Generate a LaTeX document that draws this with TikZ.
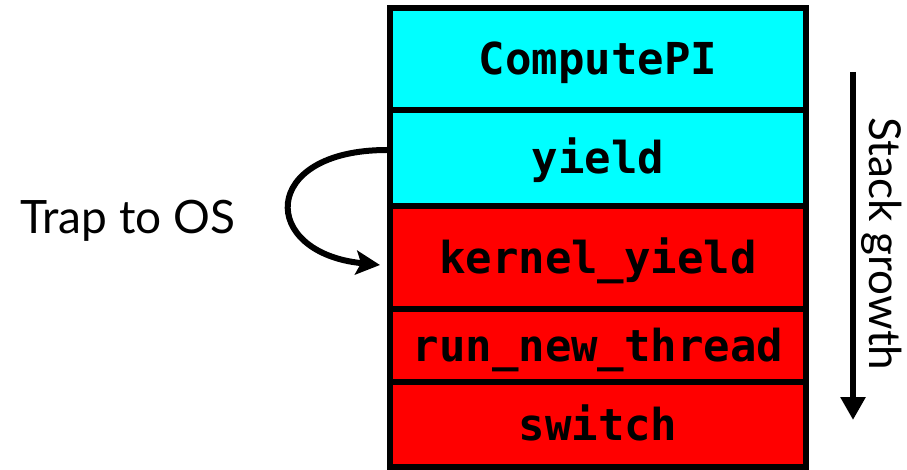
\documentclass[tikz,border=0pt]{standalone}
\usepackage{fontspec}
\setmainfont{Lato}
\setmonofont{DejaVu Sans Mono}
\usetikzlibrary{arrows.meta}
\definecolor{usercyan}{HTML}{00FFFF}
\definecolor{userred}{HTML}{FF0000}
\begin{document}
\begin{tikzpicture}[x=1pt,y=-1pt,
  frame/.style={draw=black,line width=6pt,inner sep=0pt,minimum width=416pt,
    font=\fontsize{44}{44}\selectfont\ttfamily\bfseries,text height=32pt,text depth=0pt},
  userside/.style={frame,fill=usercyan},
  kernside/.style={frame,fill=userred},
  bigarrow/.style={line width=6pt}]
\useasboundingbox (0,0) rectangle (907,470);
\node[userside,minimum height=102pt] (cpi) at (598,59) {ComputePI};
\node[userside,minimum height=96pt] (yld) at (598,158) {yield};
\node[kernside,minimum height=103pt] (kyld) at (598,257.5) {kernel\_yield};
\node[kernside,minimum height=73pt] (rnt) at (598,345.5) {run\_new\_thread};
\node[kernside,minimum height=85pt] (sw) at (598,424.5) {switch};
\coordinate (trapstart) at (387,150);
\coordinate (trapend) at (380,265);
\draw[bigarrow,-{Stealth[length=24pt,width=24pt,inset=5pt]}] (trapstart) .. controls (259,150) and (259,253) .. (trapend);
\node[anchor=west,inner sep=0pt,font=\fontsize{46}{46}\selectfont,text height=33pt,text depth=0pt] (trap) at (20,217) {Trap to OS};
\coordinate (gtop) at (853,72);
\coordinate (gbot) at (853,420);
\draw[bigarrow,-{Triangle[length=23pt,width=24pt]}] (gtop) -- (gbot);
\node[rotate=-90,inner sep=0pt,font=\fontsize{44}{44}\selectfont] (growth) at (882,244) {Stack growth};
\end{tikzpicture}
\end{document}
